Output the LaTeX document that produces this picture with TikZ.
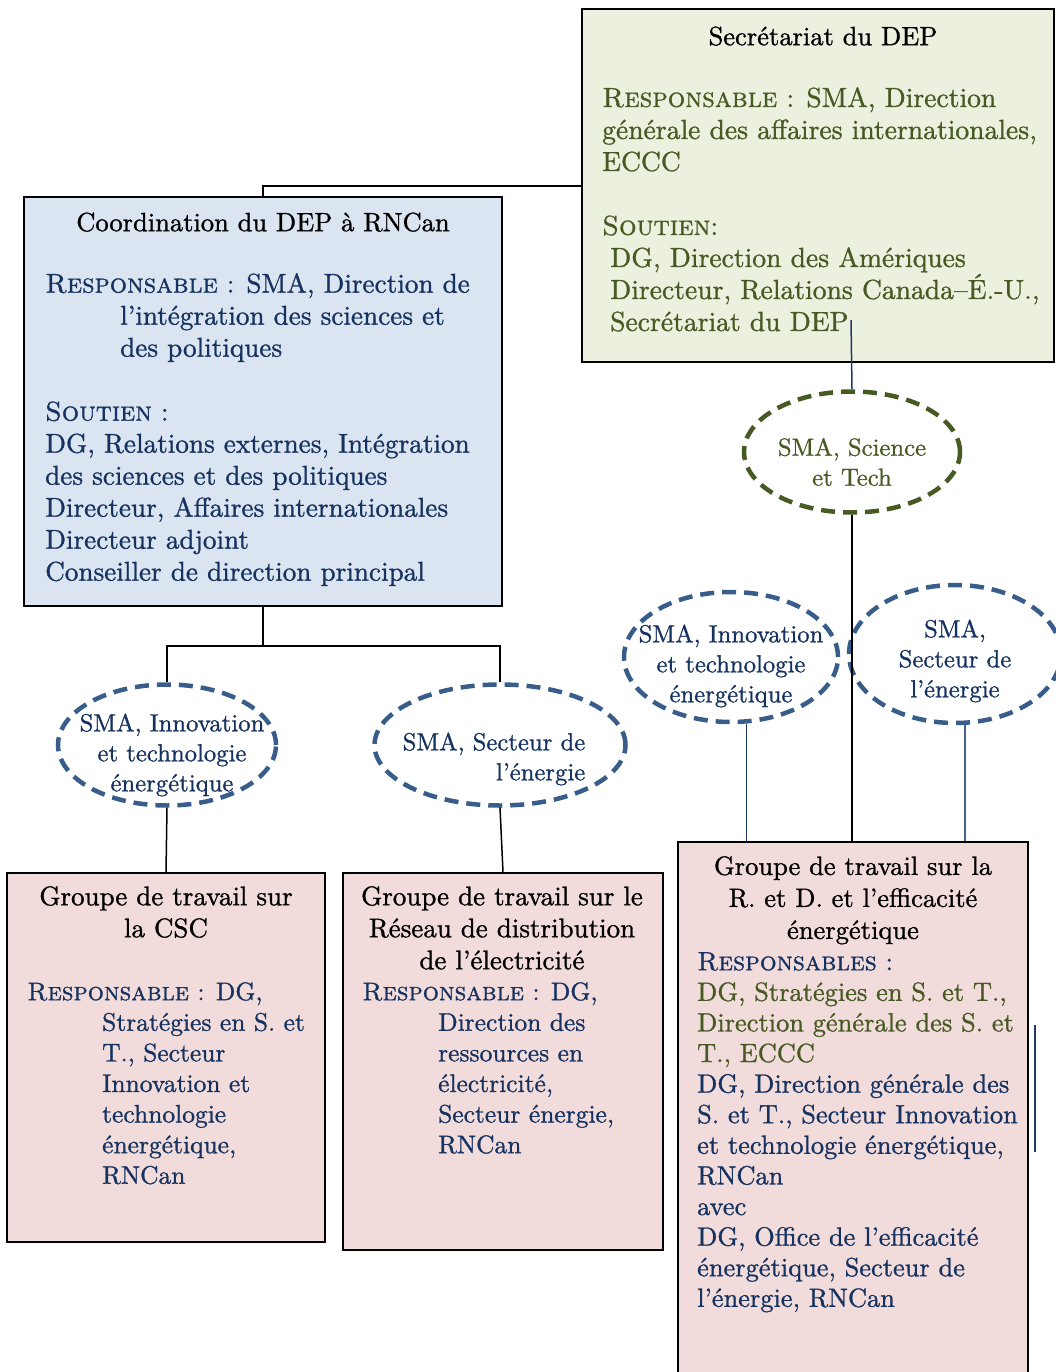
\documentclass[tikz,border=0pt]{standalone}
\definecolor{depnavy}{RGB}{22,50,96}
\definecolor{depolive}{RGB}{72,90,36}
\definecolor{depsteel}{RGB}{56,93,138}
\definecolor{depgreen}{RGB}{235,241,222}
\definecolor{depblue}{RGB}{219,229,241}
\definecolor{deppink}{RGB}{242,220,219}
\definecolor{depline}{RGB}{31,56,100}
\usepackage{fontspec}
\setmainfont{lmroman10-regular.otf}[SmallCapsFont=lmromancaps10-regular.otf, FakeBold=1]
\usepackage{tikz}
\usetikzlibrary{fit,shapes.geometric}

\newcommand{\resp}{\textsc{Responsable}}
\newcommand{\topstrut}{\rule{0pt}{22pt}}

\tikzset{
  panel/.style={draw=black, line width=1.5pt, inner sep=0pt},
  bodytext/.style={anchor=north west, inner sep=0pt, align=left, text=depnavy,
    font=\fontsize{27.2}{32}\selectfont, execute at begin node=\topstrut},
  headtext/.style={anchor=north, inner sep=0pt, align=center, text=black,
    font=\fontsize{26.5}{32}\selectfont, execute at begin node=\topstrut},
  pinktext/.style={bodytext, font=\fontsize{25.5}{30.6}\selectfont},
  dashell/.style={ellipse, draw=depsteel, line width=4.5pt, dash pattern=on 14pt off 8pt, inner sep=0pt},
  elltext/.style={inner sep=0pt, align=center, text=depnavy, font=\fontsize{24.7}{30}\selectfont},
  link/.style={draw=black, line width=1.5pt},
  navylink/.style={draw=depline, line width=1.5pt}
}
\setlength{\lineskiplimit}{-30pt}

\begin{document}
\begin{tikzpicture}[x=1pt, y=-1pt]
  \useasboundingbox (0,0) rectangle (1056,1372);

  % Boxes
  \node (sec) [panel, fill=depgreen, fit={(582,9) (1054,362)}] {};
  \node (coord) [panel, fill=depblue, fit={(24,197) (502,606)}] {};
  \node (csc) [panel, fill=deppink, fit={(7,873) (325,1242)}] {};
  \node (res) [panel, fill=deppink, fit={(343,873) (663,1250)}] {};
  \node (rd) [panel, fill=deppink, fit={(678,842) (1028,1392)}] {};

  % Secretariat
  \node (sectitle) [headtext] at (823,23) {Secrétariat du DEP};
  \node (secbody) [bodytext, text=depolive, font=\fontsize{27.6}{32}\selectfont] at (602,87) {\resp{} : SMA, Direction\\
    générale des affaires internationales,\\
    ECCC\\[32pt]
    \textsc{Soutien}:\\
    \hspace*{8pt}DG, Direction des Amériques\\
    \hspace*{8pt}Directeur, Relations Canada--É.-U.,\\
    \hspace*{8pt}Secrétariat du DEP};

  % Coordination RNCan
  \node (coordtitle) [headtext] at (263,209) {Coordination du DEP à RNCan};
  \node (coordbody) [bodytext] at (45,273) {\resp{} : SMA, Direction de\\
    \hspace*{75pt}l'intégration des sciences et\\
    \hspace*{75pt}des politiques\\[32pt]
    \textsc{Soutien} :\\
    DG, Relations externes, Intégration\\
    des sciences et des politiques\\
    Directeur, Affaires internationales\\
    Directeur adjoint\\
    Conseiller de direction principal};

  % Groupes de travail
  \node (csctitle) [headtext, font=\fontsize{27}{32}\selectfont] at (166,886) {Groupe de travail sur\\ la CSC};
  \node (cscbody) [pinktext] at (27,982) {\resp{} : DG,\\
    \hspace*{75pt}Stratégies en S. et\\
    \hspace*{75pt}T., Secteur\\
    \hspace*{75pt}Innovation et\\
    \hspace*{75pt}technologie\\
    \hspace*{75pt}énergétique,\\
    \hspace*{75pt}RNCan};

  \node (restitle) [headtext, font=\fontsize{27}{32}\selectfont] at (502,886) {Groupe de travail sur le\\ Réseau de distribution\\ de l'électricité};
  \node (resbody) [pinktext] at (362,982) {\resp{} : DG,\\
    \hspace*{76pt}Direction des\\
    \hspace*{76pt}ressources en\\
    \hspace*{76pt}électricité,\\
    \hspace*{76pt}Secteur énergie,\\
    \hspace*{76pt}RNCan};

  \node (rdtitle) [headtext] at (853,856) {Groupe de travail sur la\\ R. et D. et l'efficacité\\ énergétique};
  \node (rdbody) [pinktext, font=\fontsize{26.4}{30.6}\selectfont] at (697,952) {\textsc{Responsables} :\\
    \textcolor{depolive}{DG, Stratégies en S. et T.,}\\
    \textcolor{depolive}{Direction générale des S. et}\\
    \textcolor{depolive}{T., ECCC}\\
    DG, Direction générale des\\
    S. et T., Secteur Innovation\\
    et technologie énergétique,\\
    RNCan\\
    avec\\
    DG, Office de l'efficacité\\
    énergétique, Secteur de\\
    l'énergie, RNCan};

  % SMA ellipses
  \node (sci) [dashell, draw=depolive, minimum width=216pt, minimum height=121pt] at (852,452) {};
  \node (rie) [dashell, minimum width=214pt, minimum height=130pt] at (731,657) {};
  \node (rse) [dashell, minimum width=212pt, minimum height=138pt] at (955,654) {};
  \node (lie) [dashell, minimum width=218pt, minimum height=121pt] at (167,745) {};
  \node (mse) [dashell, minimum width=251pt, minimum height=121pt] at (500,745) {};

  \node (scitext) [elltext, text=depolive] at ([shift={(0,10)}]sci.center) {SMA, Science\\ et Tech};
  \node (rietext) [elltext] at ([shift={(0,9)}]rie.center) {SMA, Innovation\\ et technologie\\ énergétique};
  \node (rsetext) [elltext] at ([shift={(0,7)}]rse.center) {SMA,\\ Secteur de\\ l'énergie};
  \node (lietext) [elltext] at ([shift={(5,10)}]lie.center) {SMA, Innovation\\ et technologie\\ énergétique};
  \node (msetext) [elltext, align=right] at ([shift={(-6,14)}]mse.center) {SMA, Secteur de\\ l'énergie};

  % Connectors
  \coordinate (secjoin) at (582,186);
  \draw[link] (coord.north) |- (secjoin);
  \draw[link] (coord.south) -- ++(0,39) coordinate (split);
  \draw[link] (split) -| (lie.north);
  \draw[link] (split) -| (mse.north);
  \draw[link] (lie.south) -- (csc.north);
  \draw[link] (mse.south) -- (res.north);

  \coordinate (secfoot) at (851,320);
  \draw[navylink] (secfoot) -- (sci.north);
  \draw[link] (sci.south) -- (sci.south |- rd.north);
  \draw[navylink] (rie.-77) -- (rie.-77 |- rd.north);
  \draw[navylink, draw=depsteel!80!gray] (rse.-82) -- (rse.-82 |- rd.north);
  \draw[navylink] (1035,1025) -- (1035,1152);
\end{tikzpicture}
\end{document}
